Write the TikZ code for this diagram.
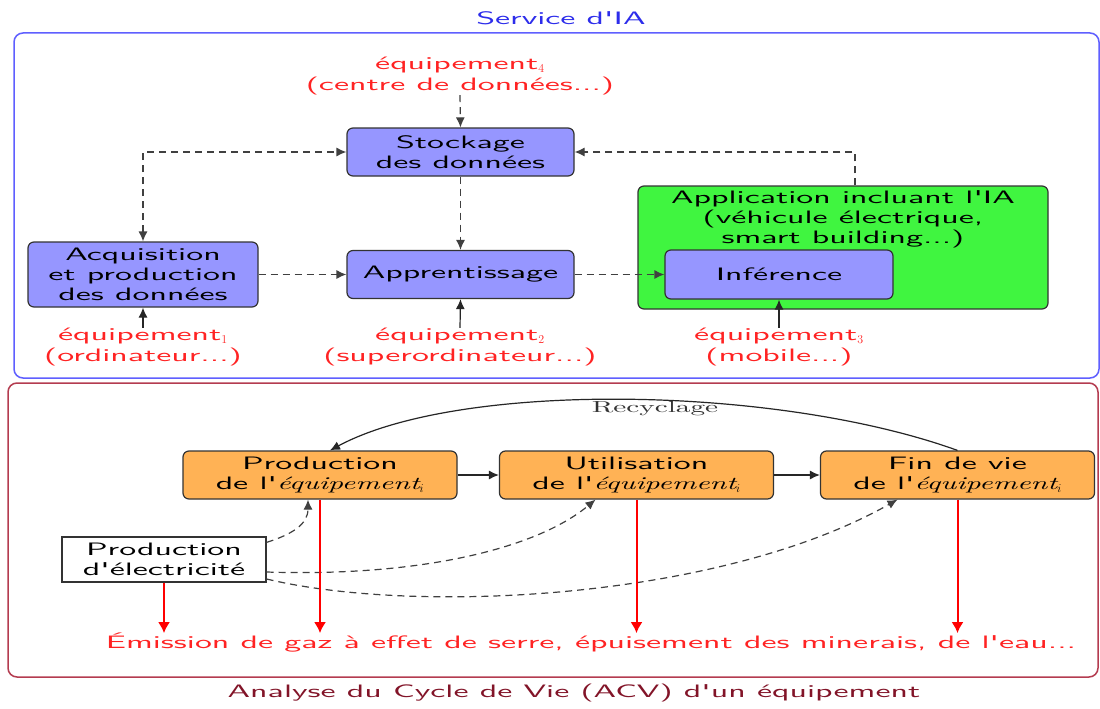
\documentclass[tikz,border=0pt]{standalone}
\usepackage{fontspec}
\newfontfamily\wsf{lmsans10-regular.otf}[FakeStretch=1.88]
\newfontfamily\wit{lmroman10-italic.otf}[FakeStretch=1.65]
\newfontfamily\wrm{lmroman10-regular.otf}[FakeStretch=1.83]
\usetikzlibrary{arrows.meta}
\definecolor{frameblue}{RGB}{95,95,255}
\definecolor{titleblue}{RGB}{45,45,235}
\definecolor{boxblue}{RGB}{150,150,255}
\definecolor{boxgreen}{RGB}{64,245,64}
\definecolor{boxorange}{RGB}{255,178,85}
\definecolor{framered}{RGB}{180,60,80}
\definecolor{titlered}{RGB}{130,20,40}
\definecolor{labred}{RGB}{255,35,35}
\newcommand{\equi}{{\wit équipement}$_i$}
\begin{document}
\begin{tikzpicture}[x=1pt,y=-1pt,
  every node/.style={font=\wsf\fontsize{18}{20}\selectfont, inner sep=0pt, align=center},
  bbox/.style={draw=black!80, fill=boxblue, rounded corners=6pt, line width=1.2pt, minimum width=227pt, minimum height=48pt},
  gbox/.style={draw=black!80, fill=boxgreen, rounded corners=6pt, line width=1.2pt, minimum width=410pt, minimum height=123pt},
  obox/.style={draw=black!80, fill=boxorange, rounded corners=6pt, line width=1.2pt, minimum width=274pt, minimum height=48pt},
  ebox/.style={draw=black!80, fill=white, line width=1.2pt, minimum width=204pt, minimum height=45pt},
  lab/.style={text=labred, font=\wsf\fontsize{18}{21}\selectfont},
  darr/.style={draw=black!75, line width=1.2pt, dash pattern=on 7pt off 5pt, -{Latex[length=10pt,width=9pt]}},
  sarr/.style={draw=black!85, line width=1.2pt, -{Latex[length=10pt,width=9pt]}},
  rarr/.style={draw=red, line width=2pt, -{Latex[length=11pt,width=12pt]}}
]
\useasboundingbox (0,0) rectangle (1100,709);
\fill[white] (0,0) rectangle (1100,709);
% frames
\draw[frameblue, line width=1.5pt, rounded corners=9pt] (14,33) rectangle (1099,378);
\draw[framered, line width=1.5pt, rounded corners=9pt] (8,383) rectangle (1098,677);
\node[text=titleblue] (svc) at (561,18) {Service d'IA};
\node[text=titlered] (acv) at (574,693) {Analyse du Cycle de Vie (ACV) d'un équipement};
% upper part
\node[bbox] (stock) at (460.5,152) {Stockage\\des données};
\node[bbox, minimum width=230pt, minimum height=65pt] (acq) at (143,274.5) {Acquisition\\et production\\des données};
\node[bbox] (appr) at (460.5,274.5) {Apprentissage};
\node[gbox] (app) at (843,247.5) {};
\node (apptxt) at (843,219) {Application incluant l'IA\\(véhicule électrique,\\smart building...)};
\node[bbox, minimum width=228pt, minimum height=49pt] (inf) at (779,274.5) {Inférence};
\node[lab] (eq4) at (460,76) {équipement$_4$\\(centre de données...)};
\node[lab] (eq1) at (143,347) {équipement$_1$\\(ordinateur...)};
\node[lab] (eq2) at (460,347) {équipement$_2$\\(superordinateur...)};
\node[lab] (eq3) at (779,347) {équipement$_3$\\(mobile...)};
\draw[darr] (eq4.south) -- (stock.north);
\draw[darr] (stock.south) -- (appr.north);
\draw[darr, {Latex[length=10pt,width=9pt]}-{Latex[length=10pt,width=9pt]}] (acq.north) |- (stock.west);
\draw[darr] (acq.east) -- (appr.west);
\draw[darr] (appr.east) -- (inf.west);
\draw[darr] ([xshift=12pt]app.north) |- (stock.east);
\draw[sarr] (eq1.north) -- (acq.south);
\draw[sarr] (eq2.north) -- (appr.south);
\draw[sarr] (eq3.north) -- (inf.south);
% lower part
\node[obox] (prod) at (320,475) {Production\\de l'\equi};
\node[obox] (util) at (636.5,475) {Utilisation\\de l'\equi};
\node[obox] (fin) at (957.5,475) {Fin de vie\\de l'\equi};
\node[ebox] (elec) at (164,559.5) {Production\\d'électricité};
\node[text=labred] (emis) at (591,643) {Émission de gaz à effet de serre, épuisement des minerais, de l'eau...};
\node[text=black!80, font=\wrm\fontsize{16}{18}\selectfont] (rec) at (655,409) {Recyclage};
\draw[sarr] (prod.east) -- (util.west);
\draw[sarr] (util.east) -- (fin.west);
\draw[sarr] (fin.north) .. controls +(-180,-65) and +(130,-70) .. ([xshift=10pt]prod.north);
\draw[darr] ([yshift=-6pt]elec.north east) .. controls +(25,-8) and +(0,25) .. ([xshift=-12pt]prod.south);
\draw[darr] ([yshift=-12.5pt]elec.east) .. controls +(150,5) and +(-60,50) .. ([xshift=-41pt]util.south);
\draw[darr] ([yshift=-19.5pt]elec.east) .. controls +(150,36) and +(-177,100) .. ([xshift=-60pt]fin.south);
\draw[rarr] (elec.south) -- (elec.south |- emis.north);
\draw[rarr] (prod.south) -- (prod.south |- emis.north);
\draw[rarr] (util.south) -- (util.south |- emis.north);
\draw[rarr] (fin.south) -- (fin.south |- emis.north);
\end{tikzpicture}
\end{document}
